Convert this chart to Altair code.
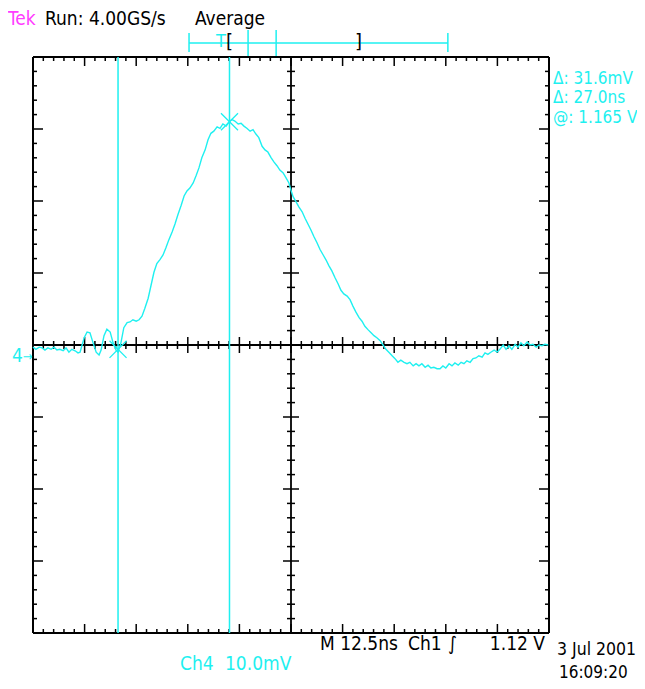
import altair as alt
import pandas as pd
import numpy as np

# ---- Data (Ch4, 12.5 ns/div, 10.0 mV/div) ----
time_ns = [0.0, 0.7, 1.5, 2.2, 2.9, 3.6, 4.4, 5.1, 5.8, 6.5, 7.3, 8.0, 8.7, 9.4, 10.2, 10.9,
           11.4, 11.9, 12.4, 13.1, 13.8, 14.5, 15.3, 16.0, 16.5, 17.2, 17.9, 18.7, 19.4, 20.1,
           20.6, 21.3, 22.0, 22.8, 23.5, 24.2, 25.0, 25.7, 26.4, 27.1, 27.9, 28.6, 29.3, 30.0,
           30.8, 31.5, 32.2, 32.9, 33.7, 34.4, 35.1, 35.9, 36.6, 37.3, 38.0, 38.8, 39.5, 40.2,
           40.9, 41.7, 42.4, 43.1, 43.8, 44.6, 45.3, 46.0, 46.8, 47.5, 48.2, 48.9, 49.7, 50.4,
           51.1, 51.8, 52.6, 53.3, 54.0, 54.7, 55.5, 56.2, 56.9, 57.7, 58.4, 59.1, 59.8, 60.6,
           61.3, 62.0, 62.5, 63.0, 63.7, 64.4, 65.2, 65.9, 66.6, 67.3, 68.1, 68.8, 69.5, 70.3,
           71.0, 71.7, 72.4, 73.2, 73.9, 74.6, 75.3, 76.1, 76.8, 77.5, 78.2, 79.0, 79.7, 80.4,
           81.2, 81.9, 82.6, 83.3, 84.1, 84.8, 85.5, 86.2, 87.0, 87.7, 88.4, 89.1, 89.9, 90.6,
           91.3, 92.1, 92.8, 93.5, 94.2, 95.0, 95.7, 96.4, 97.1, 97.9, 98.6, 99.3, 100.0, 100.8,
           101.5, 102.2, 103.0, 103.7, 104.4, 105.1, 105.9, 106.6, 107.3, 108.0, 108.8, 109.5,
           110.2, 110.9, 111.7, 112.4, 113.1, 113.9, 114.6, 115.3, 116.0, 116.8, 117.5, 118.2,
           118.9, 119.7, 120.4, 121.1, 121.9, 122.6, 123.3, 124.0, 124.8]
ch4_mV = [-0.3, -0.6, -0.3, -0.4, -0.7, -0.4, -0.6, -0.3, -0.7, -0.6, -0.8, -0.4, -1.0, -0.6,
          -0.8, -1.1, -1.0, 0.0, 1.0, 1.8, 1.7, 0.4, -1.0, -1.4, -0.7, 1.3, 2.2, 1.8, 0.3, -0.7,
          -1.0, 0.3, 2.4, 3.1, 3.2, 3.5, 3.3, 3.5, 4.0, 5.1, 6.5, 8.3, 10.1, 11.3, 11.9, 12.5,
          13.5, 14.6, 15.7, 16.8, 18.1, 19.4, 20.7, 21.4, 21.8, 22.5, 23.5, 24.6, 26.0, 27.1,
          28.5, 29.4, 29.7, 30.3, 30.1, 30.7, 30.4, 31.0, 31.3, 31.1, 30.7, 30.8, 30.4, 30.1,
          29.7, 29.9, 29.3, 28.8, 27.6, 27.1, 26.8, 26.0, 25.4, 24.9, 24.3, 23.9, 23.2, 22.5,
          21.5, 20.6, 19.9, 19.2, 18.5, 17.6, 16.8, 16.0, 15.0, 14.2, 13.3, 12.5, 11.8, 11.0,
          10.3, 9.3, 8.5, 7.6, 7.1, 6.8, 6.3, 5.4, 4.6, 3.8, 3.3, 2.6, 2.1, 1.7, 1.3, 1.0, 0.6,
          0.0, -0.6, -1.0, -1.5, -1.9, -2.4, -2.1, -2.4, -2.6, -2.4, -2.9, -2.6, -2.9, -2.6,
          -3.1, -2.8, -3.2, -3.1, -3.3, -3.3, -2.9, -3.2, -2.6, -2.9, -2.5, -2.8, -2.4, -2.6,
          -2.2, -2.4, -1.9, -1.8, -1.5, -1.7, -1.1, -1.3, -1.0, -0.7, -1.0, -0.6, 0.0, -0.6,
          -0.1, -0.6, 0.1, -0.3, 0.3, -0.1, 0.4, 0.0, 0.1, -0.3, 0.0, -0.1, 0.1, 0.0]

cursor_t = [20.6, 47.6]        # ns  (delta 27.0 ns)
cursor_v = [-0.6, 31.0]        # mV  (delta 31.6 mV)

record_bar = [37.8, 100.5]     # record-length indicator ends (ns on screen scale)
window_ticks = [52.1, 58.9]    # inner indicator ticks

readouts = ["\u0394: 31.6mV", "\u0394: 27.0ns", "@: 1.165 V"]

X_DOMAIN = [0, 125]   # 10 div x 12.5 ns
Y_DOMAIN = [-40, 40]  # 8 div x 10 mV
X_DIV, Y_DIV = 12.5, 10.0

W, H = 516, 576
PXX = W / (X_DOMAIN[1] - X_DOMAIN[0])
PXY = H / (Y_DOMAIN[1] - Y_DOMAIN[0])

CYAN = "#1ef0f0"
MAGENTA = "#ff3cff"
FONT = "DejaVu Sans Condensed, Liberation Sans Narrow, sans-serif"

xs = alt.Scale(domain=X_DOMAIN, nice=False, zero=False)
ys = alt.Scale(domain=Y_DOMAIN, nice=False, zero=False)
X = lambda f: alt.X(f, type="quantitative", scale=xs, axis=None)
Y = lambda f: alt.Y(f, type="quantitative", scale=ys, axis=None)

# ---- graticule ticks ----
rows = []
xt = np.round(np.arange(X_DOMAIN[0], X_DOMAIN[1] + 0.01, X_DIV / 5), 3)
yt = np.round(np.arange(Y_DOMAIN[0], Y_DOMAIN[1] + 0.01, Y_DIV / 5), 3)
for t in xt:
    major = abs((t / X_DIV) - round(t / X_DIV)) < 1e-6
    le = (9 if major else 4) / PXY
    lc = (8 if major else 4) / PXY
    rows.append(dict(x=t, x2=t, y=Y_DOMAIN[1], y2=Y_DOMAIN[1] - le))
    rows.append(dict(x=t, x2=t, y=Y_DOMAIN[0], y2=Y_DOMAIN[0] + le))
    rows.append(dict(x=t, x2=t, y=-lc, y2=lc))
xc = (X_DOMAIN[0] + X_DOMAIN[1]) / 2
for v in yt:
    major = abs((v / Y_DIV) - round(v / Y_DIV)) < 1e-6
    le = (10 if major else 4) / PXX
    lc = (8 if major else 4) / PXX
    rows.append(dict(x=X_DOMAIN[0], x2=X_DOMAIN[0] + le, y=v, y2=v))
    rows.append(dict(x=X_DOMAIN[1], x2=X_DOMAIN[1] - le, y=v, y2=v))
    rows.append(dict(x=xc - lc, x2=xc + lc, y=v, y2=v))
ticks_df = pd.DataFrame(rows)

frame_df = pd.DataFrame([
    dict(x=X_DOMAIN[0], x2=X_DOMAIN[1], y=Y_DOMAIN[0], y2=Y_DOMAIN[0]),
    dict(x=X_DOMAIN[0], x2=X_DOMAIN[1], y=Y_DOMAIN[1], y2=Y_DOMAIN[1]),
    dict(x=X_DOMAIN[0], x2=X_DOMAIN[0], y=Y_DOMAIN[0], y2=Y_DOMAIN[1]),
    dict(x=X_DOMAIN[1], x2=X_DOMAIN[1], y=Y_DOMAIN[0], y2=Y_DOMAIN[1]),
])
center_df = pd.DataFrame([
    dict(x=X_DOMAIN[0], x2=X_DOMAIN[1], y=0, y2=0),
    dict(x=xc, x2=xc, y=Y_DOMAIN[0], y2=Y_DOMAIN[1]),
])

trace_df = pd.DataFrame({"t": time_ns, "v": ch4_mV})
cur_df = pd.DataFrame({"t": cursor_t, "v": cursor_v})
bar_df = pd.DataFrame({"a": [record_bar[0]], "b": [record_bar[1]]})
cap_df = pd.DataFrame({"a": record_bar})
win_df = pd.DataFrame({"a": window_ticks})
one = pd.DataFrame({"k": [0]})

ticks = alt.Chart(ticks_df).mark_rule(color="black", strokeWidth=1.5).encode(
    x=X("x"), x2="x2", y=Y("y"), y2="y2")
frame = alt.Chart(frame_df).mark_rule(color="black", strokeWidth=2).encode(
    x=X("x"), x2="x2", y=Y("y"), y2="y2")
center = alt.Chart(center_df).mark_rule(color="black", strokeWidth=1.8).encode(
    x=X("x"), x2="x2", y=Y("y"), y2="y2")

cursors = alt.Chart(cur_df).mark_rule(color=CYAN, strokeWidth=1.5).encode(x=X("t"))
trace = alt.Chart(trace_df).mark_line(color=CYAN, strokeWidth=1.4).encode(x=X("t"), y=Y("v"))
marks = alt.Chart(cur_df).mark_point(
    shape="M-1,-1L1,1M-1,1L1,-1", size=290, filled=False, color=CYAN, strokeWidth=1.3, opacity=1
).encode(x=X("t"), y=Y("v"))

bar = alt.Chart(bar_df).mark_rule(color=CYAN, strokeWidth=1.5).encode(
    x=X("a"), x2="b", y=alt.value(-14))
caps = alt.Chart(cap_df).mark_rule(color=CYAN, strokeWidth=1.5).encode(
    x=X("a"), y=alt.value(-24), y2=alt.value(-5))
wins = alt.Chart(win_df).mark_rule(color=CYAN, strokeWidth=1.5).encode(
    x=X("a"), y=alt.value(-27), y2=alt.value(-1))


def label(text, x, y, color="black", size=19, align="left"):
    return alt.Chart(one).mark_text(
        text=text, align=align, baseline="alphabetic", fontSize=size, font=FONT, color=color
    ).encode(x=alt.value(x), y=alt.value(y))


texts = [
    label("Tek", -25, -32.5, MAGENTA),
    label("Run: 4.00GS/s", 12, -32.5),
    label("Average", 162, -32.5),
    label("T", 183, -10, CYAN, 18),
    label("[", 193, -9, "black", 20),
    label("]", 322, -9, "black", 20),
    label(readouts[0], 520, 27, CYAN, 17),
    label(readouts[1], 520, 46, CYAN, 17),
    label(readouts[2], 520, 66, CYAN, 17),
    label("4", -21, 305, CYAN, 19),
    label("\u2192", -10, 304, CYAN, 13),
    label("M 12.5ns", 287, 593),
    label("Ch1", 375, 593),
    label("\u222b", 415, 593),
    label("1.12 V", 512, 593, align="right"),
    label("Ch4", 147, 613, CYAN),
    label("10.0mV", 192, 613, CYAN),
    label("3 Jul 2001", 524, 598, size=17.5),
    label("16:09:20", 526, 621, size=17),
]

chart = alt.layer(ticks, center, frame, cursors, trace, marks, bar, caps, wins, *texts).properties(
    width=W, height=H,
    padding={"left": 25, "top": 49, "right": 88, "bottom": 48},
    autosize="none",
    background="white",
).configure_view(stroke=None)

chart.save("out.html", embed_options={"renderer": "svg", "actions": False})
